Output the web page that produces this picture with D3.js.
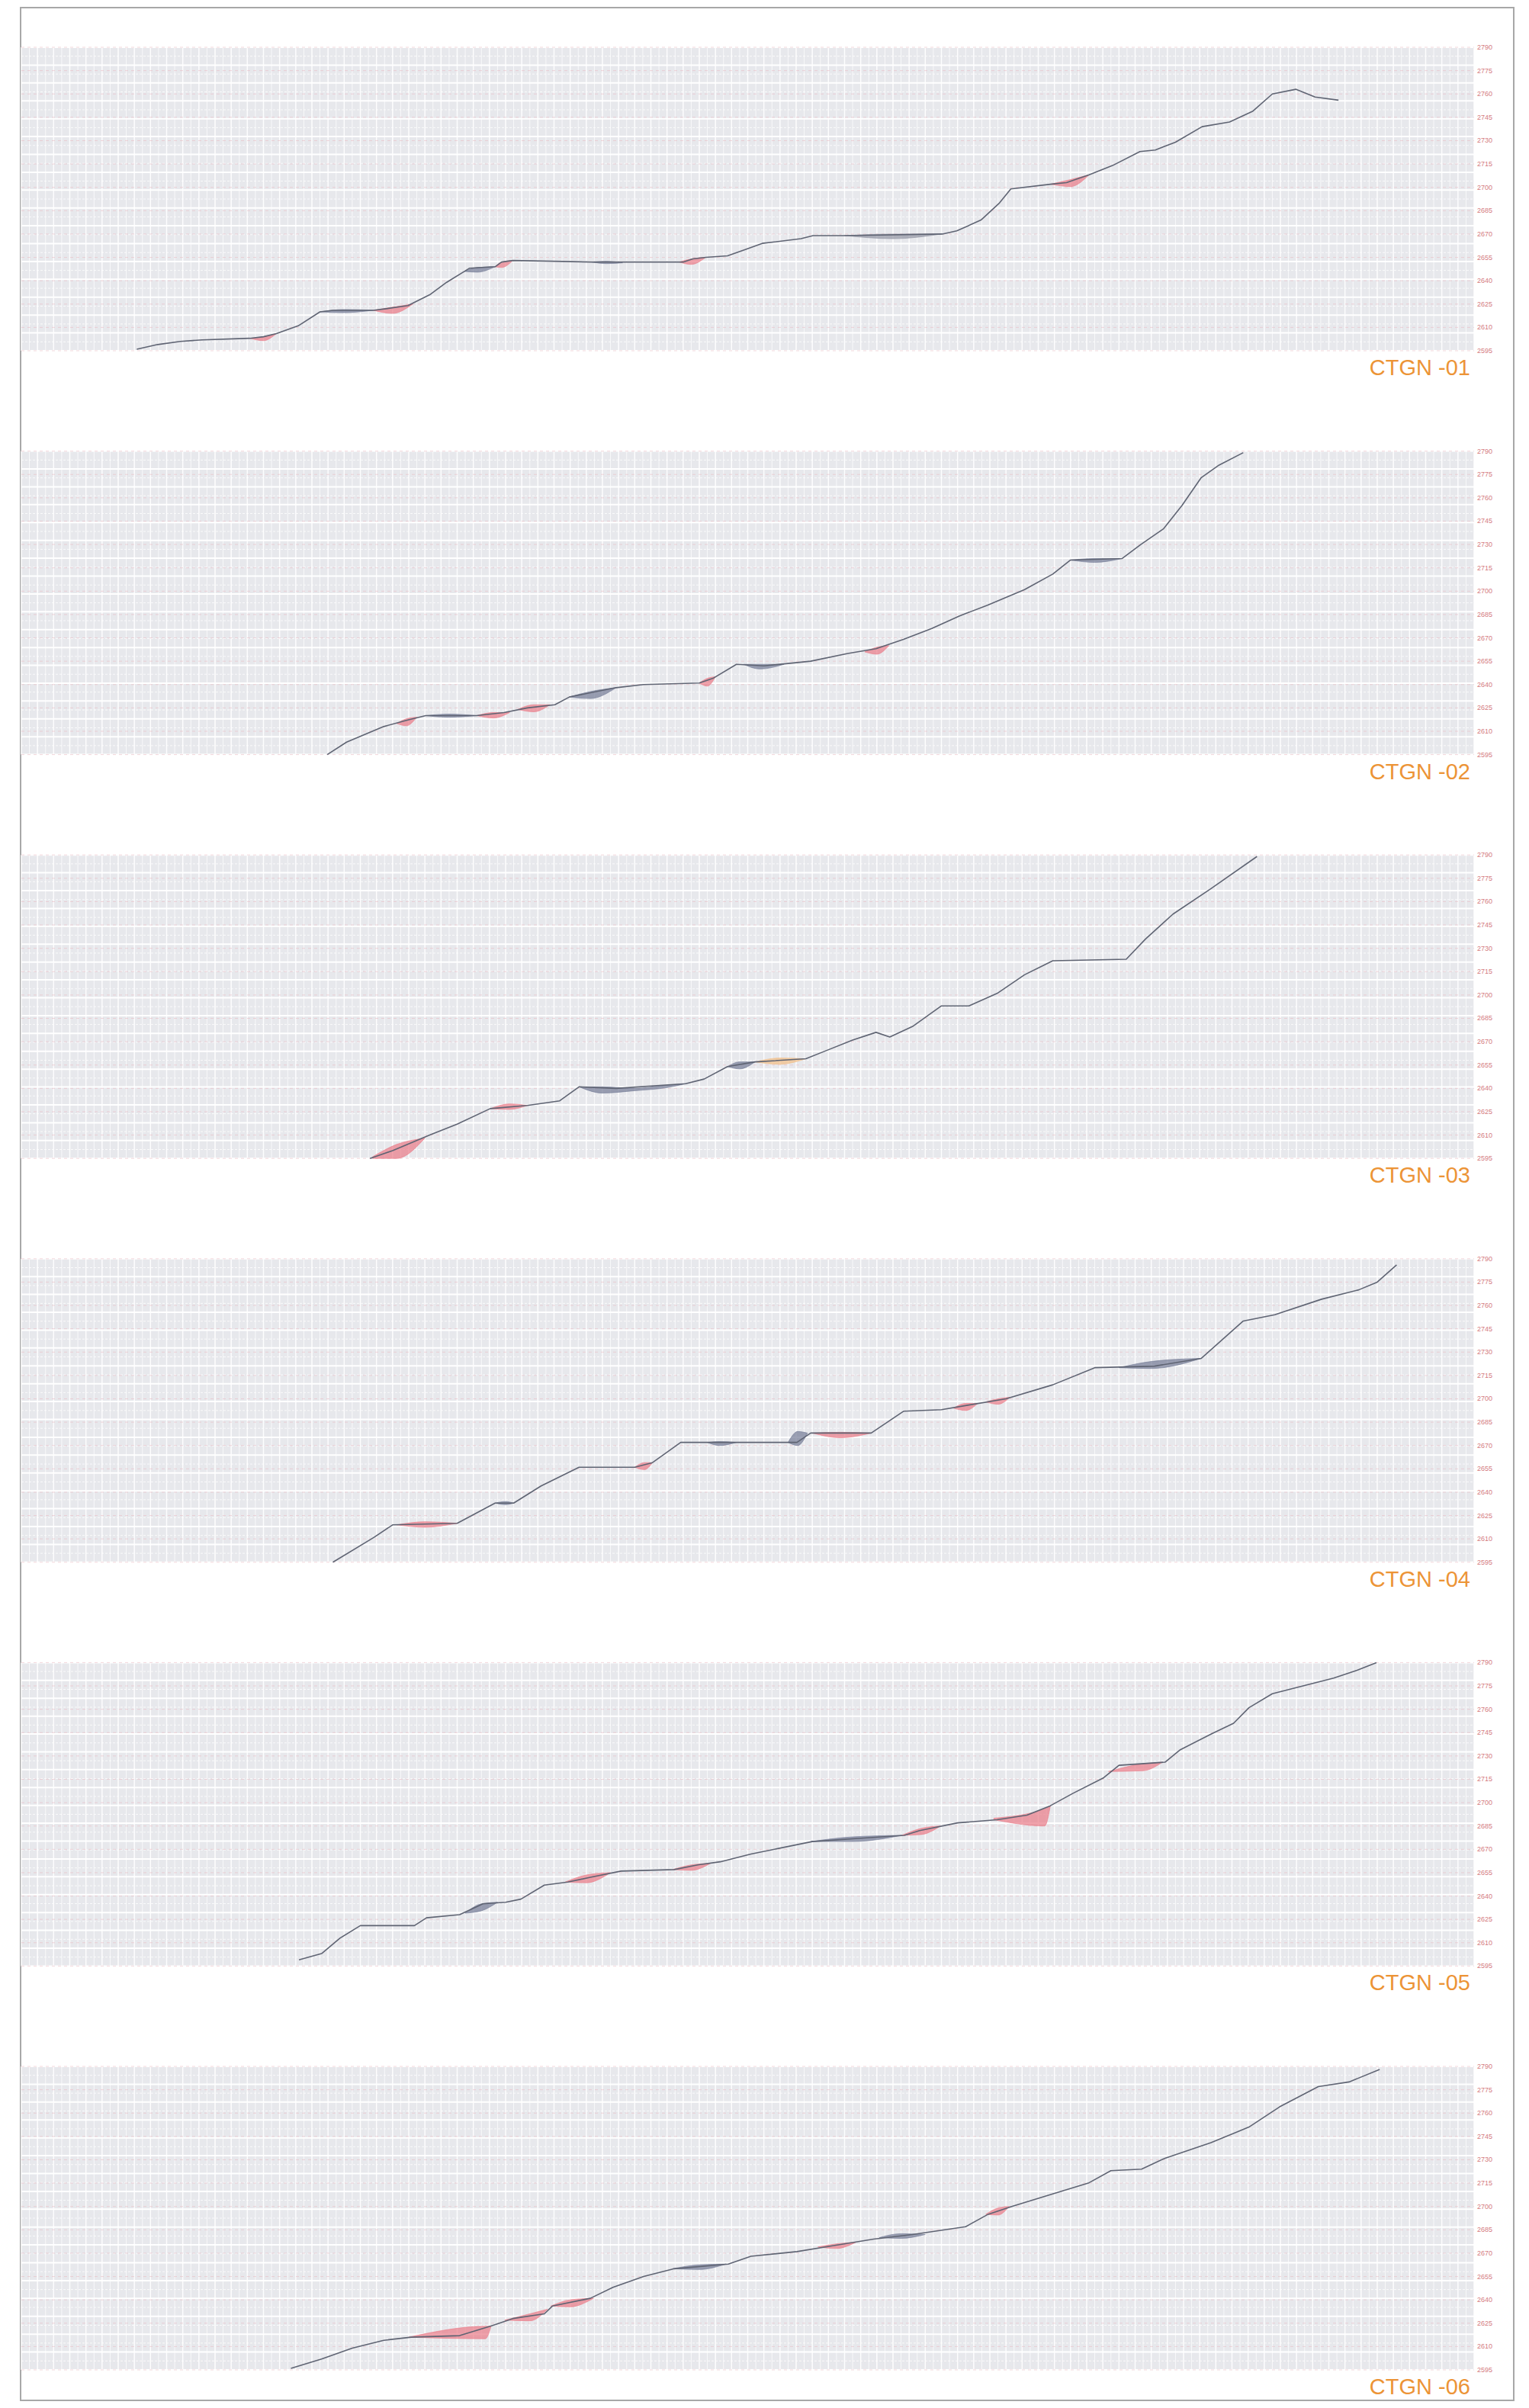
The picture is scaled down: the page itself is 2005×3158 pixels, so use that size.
<!DOCTYPE html>
<html>
<head>
<meta charset="utf-8">
<style>
  body { margin: 0; background: #fff; }
  svg text.tick { font: 9px "Liberation Sans", Arial, sans-serif; fill: #d47a80; }
  svg text.name { font: 29px "Liberation Sans", Arial, sans-serif; fill: #ec9436; }
  .line { fill: none; stroke: #5f6473; stroke-width: 1.6px; stroke-linejoin: round; }
</style>
</head>
<body>
<script src="https://cdn.jsdelivr.net/npm/d3@7/dist/d3.min.js"></script>
<script>
// panel names
var names = ["CTGN -01", "CTGN -02", "CTGN -03", "CTGN -04", "CTGN -05", "CTGN -06"];

// right hand price labels (same on every panel)
var priceTicks = [2595, 2610, 2625, 2640, 2655, 2670, 2685, 2700, 2715, 2730, 2745, 2760, 2775, 2790];

// series: [day, price]
var s1 = [[14.3,2596],[16.9,2599],[19.7,2601],[22.4,2602],[28.3,2603],[30.0,2604],[31.6,2606],[34.3,2611],
  [37.0,2620],[38.6,2621],[43.6,2621],[45.2,2622],[47.9,2624],[50.6,2631],[52.7,2639],[54.9,2646],[55.5,2648],
  [58.7,2649],[59.5,2652],[60.9,2653],[70.7,2652],[74.5,2652],[82.0,2652],[83.2,2654],[84.8,2655],[87.5,2656],
  [89.7,2660],[91.8,2664],[96.6,2667],[98.1,2669],[102.0,2669],[114.1,2670],[115.9,2672],[118.9,2679],
  [121.2,2690],[122.6,2699],[127.5,2702],[129.5,2703],[132.3,2708],[135.2,2714],[138.6,2723],[140.5,2724],
  [143.0,2729],[146.3,2739],[149.7,2742],[152.6,2749],[155.0,2760],[157.9,2763],[160.3,2758],[163.2,2756]];

var s2 = [[37.9,2595],[40.3,2603],[44.9,2613],[47.7,2617],[50.1,2620],[56.4,2620],[59.8,2622],[62.7,2625],
  [66.1,2627],[67.9,2632],[73.7,2638],[77.1,2640],[84.0,2641],[85.7,2644],[88.6,2653],[92.0,2652],[97.8,2655],
  [102.4,2660],[105.9,2663],[109.3,2669],[112.8,2676],[116.2,2684],[119.7,2691],[124.3,2701],[127.8,2711],
  [130.0,2720],[136.4,2721],[138.7,2730],[141.5,2740],[143.8,2755],[146.2,2773],[148.4,2781],[151.4,2789]];

var s3 = [[43.2,2595],[46.0,2600],[50.6,2610],[54.0,2617],[58.1,2627],[62.7,2629],[66.7,2632],[69.1,2641],
  [73.7,2640],[82.3,2643],[84.6,2646],[87.5,2654],[90.9,2657],[97.2,2659],[99.6,2664],[103.0,2671],
  [105.9,2676],[107.6,2673],[110.5,2680],[114.0,2693],[117.4,2693],[120.9,2701],[124.3,2713],[127.8,2722],
  [136.9,2723],[139.3,2736],[142.7,2752],[147.3,2768],[153.1,2789]];

var s4 = [[38.6,2595],[43.7,2611],[46.0,2619],[54.0,2620],[58.7,2633],[61.0,2633],[64.4,2644],[69.1,2656],
  [76.0,2656],[78.2,2659],[81.7,2672],[88.6,2672],[96.1,2672],[97.8,2678],[105.3,2678],[109.3,2692],
  [114.0,2693],[117.4,2696],[122.0,2700],[127.8,2709],[133.0,2720],[140.4,2721],[146.2,2726],[151.4,2750],
  [155.3,2754],[161.1,2764],[165.7,2770],[168.0,2775],[170.4,2786]];

var s5 = [[34.4,2599],[37.2,2603],[39.5,2613],[42.0,2621],[48.7,2621],[50.2,2626],[54.3,2628],[57.2,2635],
  [60.0,2636],[61.9,2638],[64.8,2647],[67.7,2649],[70.5,2652],[74.3,2656],[80.9,2657],[83.8,2660],[86.6,2662],
  [90.4,2667],[98.0,2675],[103.7,2677],[109.4,2679],[111.3,2682],[116.0,2687],[120.9,2689],[124.6,2692],
  [127.5,2698],[130.3,2706],[134.1,2716],[136.0,2724],[141.7,2726],[143.6,2734],[147.4,2744],[150.2,2751],
  [152.1,2761],[155.0,2770],[158.8,2775],[162.6,2780],[165.5,2785],[167.9,2790]];

var s6 = [[33.4,2596],[37.2,2602],[41.0,2609],[44.9,2614],[48.3,2616],[54.3,2617],[58.1,2623],[60.9,2628],
  [64.8,2631],[65.8,2636],[70.5,2641],[73.3,2648],[77.1,2655],[80.9,2660],[87.6,2663],[90.4,2668],[96.1,2671],
  [100.8,2675],[105.6,2679],[110.4,2682],[117.0,2687],[119.8,2695],[122.7,2700],[128.4,2709],[132.2,2715],
  [135.0,2723],[138.8,2724],[141.7,2731],[147.4,2741],[152.1,2751],[155.9,2764],[160.7,2777],[164.5,2780],
  [168.3,2788]];

// shaded gaps along the line: colour key, then [day, low, high]
var b1 = [
  ["r", [[28.3,2603,2603],[30,2601.5,2604],[31.6,2606,2606]]],
  ["b", [[37.0,2620,2620],[40,2619.5,2621.5],[43.6,2621,2621]]],
  ["r", [[43.6,2621,2621],[46,2619,2623],[48.5,2625,2625]]],
  ["b", [[54.9,2646,2646],[56.5,2645.5,2648.5],[58.7,2649,2649]]],
  ["r", [[58.7,2649,2649],[59.5,2648.5,2652],[60.9,2653,2653]]],
  ["b", [[70.7,2652,2652],[72.5,2651,2652.5],[74.5,2651.5,2651.5]]],
  ["r", [[81.5,2652,2652],[83,2650.5,2654],[84.8,2655,2655]]],
  ["g", [[102,2669,2669],[108,2667,2670],[114,2670,2670]]],
  ["r", [[127.5,2702,2702],[130,2700.5,2705],[132.3,2708,2708]]]
];
var b2 = [
  ["r", [[46.5,2615,2615],[47.7,2613.5,2618],[49,2619,2619]]],
  ["b", [[50.1,2620,2620],[53,2619,2621],[56.4,2620,2620]]],
  ["r", [[56.4,2620,2620],[58.5,2618.5,2622],[60.5,2622,2622]]],
  ["r", [[61.5,2624,2624],[63.5,2622.5,2627],[65.5,2627,2627]]],
  ["b", [[67.9,2632,2632],[70.5,2631,2635.5],[73.7,2638,2638]]],
  ["r", [[84,2641,2641],[85,2639,2644],[86,2645,2645]]],
  ["b", [[89.5,2653,2653],[91.5,2650,2653],[94.5,2653,2653]]],
  ["r", [[104.5,2661,2661],[106,2659.5,2664],[107.5,2665,2665]]],
  ["b", [[130,2720,2720],[133,2718.5,2721],[136.4,2721,2721]]]
];
var b3 = [
  ["r", [[43.5,2595,2596],[46.5,2595,2604],[50,2608,2608]]],
  ["r", [[58.1,2627,2627],[60.5,2626.5,2630],[62.7,2629,2629]]],
  ["b", [[69.1,2641,2641],[72,2637,2641],[76,2638.5,2640],[80,2640.5,2642],[82.3,2643,2643]]],
  ["b", [[87.5,2654,2654],[89,2652.5,2657],[90.9,2657,2657]]],
  ["o", [[90.9,2657,2657],[94,2655.5,2659.5],[97.2,2659,2659]]]
];
var b4 = [
  ["r", [[46.5,2619,2619],[50,2617.5,2621],[54,2620,2620]]],
  ["b", [[58.7,2633,2633],[60,2632,2634],[61,2633,2633]]],
  ["r", [[76,2656,2656],[77.2,2654.5,2659],[78.2,2659,2659]]],
  ["b", [[85,2672,2672],[86.5,2670,2672.5],[88.6,2672,2672]]],
  ["b", [[95,2672,2672],[96.2,2670,2679],[97.4,2678,2678]]],
  ["r", [[98,2678,2678],[101.5,2675,2678.5],[105.3,2678,2678]]],
  ["r", [[115.5,2694,2694],[117,2692.5,2697],[118.5,2697,2697]]],
  ["r", [[119.5,2698,2698],[121,2696.5,2700],[122.5,2701,2701]]],
  ["b", [[136,2720,2720],[140,2719.5,2724],[146.2,2726,2726]]]
];
var b5 = [
  ["b", [[55,2629,2629],[57,2630.5,2635],[59,2636,2636]]],
  ["r", [[67.4,2649,2649],[70,2648.5,2653.5],[73,2655,2655]]],
  ["r", [[80.7,2657,2657],[83,2656.5,2660],[85.4,2661,2661]]],
  ["b", [[97.8,2675,2675],[103,2675,2678],[109.1,2679,2679]]],
  ["r", [[109.1,2679,2679],[111.5,2679.5,2683.5],[113.9,2685,2685]]],
  ["r", [[120.5,2689,2690],[126.8,2685,2696],[127.5,2698,2698]]],
  ["r", [[134.7,2720,2720],[139,2720.5,2725],[141.4,2726,2726]]]
];
var b6 = [
  ["r", [[48,2616,2616],[57.5,2615,2623],[58.2,2623,2623]]],
  ["r", [[59.9,2627,2627],[63,2626.5,2631],[65.2,2634,2634]]],
  ["r", [[65.6,2636,2636],[68,2635.5,2640],[70.9,2641,2641]]],
  ["b", [[80.7,2660,2660],[84,2659.5,2662.5],[87.3,2663,2663]]],
  ["r", [[98.7,2674,2674],[101,2673,2676],[103.4,2677,2677]]],
  ["b", [[106.3,2680,2680],[109,2679.5,2682.5],[112,2682,2682]]],
  ["r", [[119.5,2695,2695],[121,2694.5,2699],[122.4,2700,2700]]]
];

var series = [s1, s2, s3, s4, s5, s6];
var bands = [b1, b2, b3, b4, b5, b6];
var bandColor = { r: "#ea7a88", b: "#737a96", g: "#9396a4", o: "#f2bd85" };

var W = 2005, H = 3158;
var left = 28, gridW = 1905, gridH = 398, top0 = 62, step = 529.6;
var days = 180;

var svg = d3.select("body").append("svg")
    .attr("width", W)
    .attr("height", H);

// outer frame
svg.append("rect")
    .attr("x", 27).attr("y", 10)
    .attr("width", 1958).attr("height", 3138)
    .attr("fill", "none")
    .attr("stroke", "#a8a8a8")
    .attr("stroke-width", 2);

var x = d3.scaleLinear().domain([0, days]).range([0, gridW]);
var y = d3.scaleLinear().domain([priceTicks[0], priceTicks[priceTicks.length - 1]]).range([gridH, 0]);

var line = d3.line()
    .x(function (d) { return x(d[0]); })
    .y(function (d) { return y(d[1]); });

var area = d3.area()
    .x(function (d) { return x(d[0]); })
    .y0(function (d) { return y(d[1]); })
    .y1(function (d) { return y(d[2]); })
    .curve(d3.curveMonotoneX);

names.forEach(function (name, i) {
  var g = svg.append("g")
      .attr("transform", "translate(" + left + "," + (top0 + i * step) + ")");

  // background
  g.append("rect")
      .attr("width", gridW).attr("height", gridH)
      .attr("fill", "#e7e8ec");

  // horizontal bands: solid white lines with a dotted one between
  var rows = d3.range(0, 35);
  g.selectAll("line.h").data(rows).enter().append("line")
      .attr("x1", 0).attr("x2", gridW)
      .attr("y1", function (k) { return k * gridH / 34; })
      .attr("y2", function (k) { return k * gridH / 34; })
      .attr("stroke", "#ffffff")
      .attr("stroke-width", function (k) { return k % 2 ? 1 : 2; })
      .attr("stroke-dasharray", function (k) { return k % 2 ? "3,2" : null; })
      .attr("opacity", function (k) { return k % 2 ? 0.8 : 1; });

  // vertical day lines
  g.selectAll("line.v").data(d3.range(0, days + 1)).enter().append("line")
      .attr("x1", function (d) { return x(d); })
      .attr("x2", function (d) { return x(d); })
      .attr("y1", 0).attr("y2", gridH)
      .attr("stroke", "#ffffff")
      .attr("stroke-width", function (d) { return d % 2 ? 1 : 1.5; })
      .attr("opacity", function (d) { return d % 2 ? 0.75 : 0.95; });

  // faint pink dashed price levels
  g.selectAll("line.p").data(priceTicks).enter().append("line")
      .attr("x1", 0).attr("x2", gridW)
      .attr("y1", function (d) { return y(d); })
      .attr("y2", function (d) { return y(d); })
      .attr("stroke", "#eab8c0")
      .attr("stroke-width", 1)
      .attr("stroke-dasharray", "4,4")
      .attr("opacity", 0.55);

  // price labels on the right
  g.selectAll("text.tick").data(priceTicks).enter().append("text")
      .attr("class", "tick")
      .attr("x", gridW + 4)
      .attr("y", function (d) { return y(d) + 3; })
      .text(function (d) { return d; });

  // gap shading
  bands[i].forEach(function (b) {
    g.append("path")
        .attr("d", area(b[1]))
        .attr("fill", bandColor[b[0]])
        .attr("fill-opacity", 0.7)
        .attr("stroke", bandColor[b[0]])
        .attr("stroke-opacity", 0.8)
        .attr("stroke-width", 0.8);
  });

  // price line
  g.append("path")
      .attr("class", "line")
      .attr("d", line(series[i]));

  // panel name
  g.append("text")
      .attr("class", "name")
      .attr("x", 1900)
      .attr("y", gridH + 32)
      .attr("text-anchor", "end")
      .text(name);
});
</script>
</body>
</html>
